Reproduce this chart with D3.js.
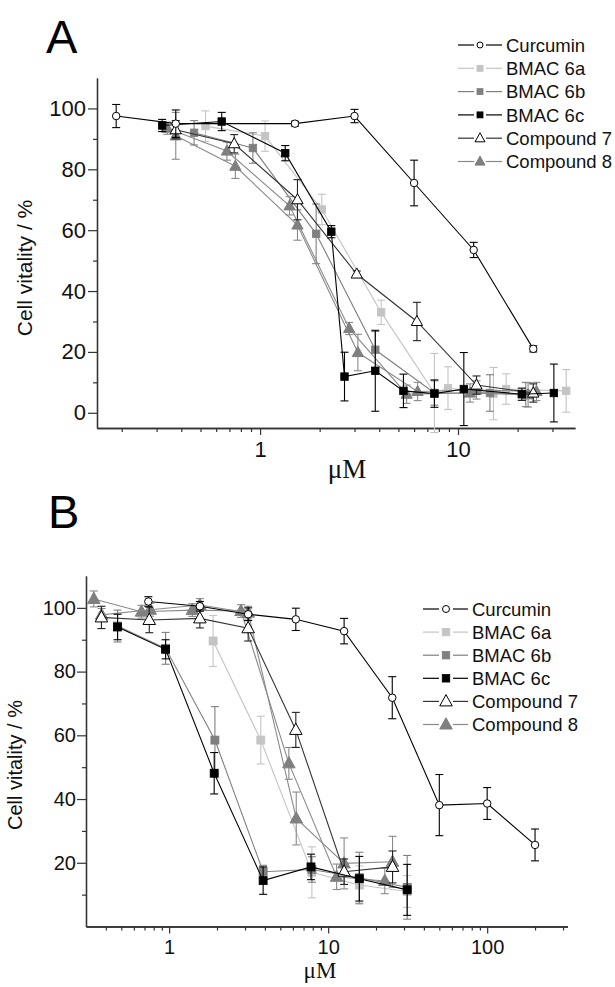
<!DOCTYPE html>
<html><head><meta charset="utf-8">
<script src="https://cdn.jsdelivr.net/npm/d3@7/dist/d3.min.js"></script>
<style>body{margin:0;background:#fff}</style>
</head><body>
<script>
// ---------- DATA: [concentration µM, vitality %, error] ----------
const A_curcumin = [[0.1875,97.5,3.8],[0.375,95,4.5],[1.5,95,0.8],[3,97.5,2.2],[6,75.5,7.5],[12,53.5,2.5],[24,21,1]];
const A_bmac6a = [[0.53,94.2,5],[1.06,90.9,5],[2.05,66.8,5],[4.09,33,4],[7.6,6.5,13],[8.9,8.1,7],[15.1,6.3,8.6],[17.5,7.8,5],[35.2,7.2,7]];
const A_bmac6b = [[0.464,92,4],[0.92,87,5],[1.92,58.8,9.8],[3.82,20.7,6],[7.6,6.5,4],[14.5,6.5,6],[22,6,4]];
const A_bmac6c = [[0.32,94.4,2],[0.64,95.7,3],[1.34,85.3,2.5],[2.29,59.5,2],[2.67,11.9,8],[3.82,13.8,13.3],[5.3,7.2,5.5],[7.6,6.3,4.5],[10.7,7.8,12],[21,6.1,2],[30.5,6.5,9.5]];
const A_cmpd7 = [[0.375,93,3],[0.74,88.4,3],[1.545,70,6.6],[3.08,45.6,1],[6.2,30,6.3],[12.4,9.1,3],[24,6.5,3]];
const A_cmpd8_r1 = [[0.34,93.5,2],[0.68,86,3],[1.41,68,3],[2.82,27.7,2],[5.5,6.1,3],[11.5,6.5,3],[22.6,5.9,4]];
const A_cmpd8_r2 = [[0.375,91,7.7],[0.75,81,4],[1.545,61.7,5],[3.12,19.8,6],[6.25,7,3],[12.4,7.5,3],[24.9,7,3]];

const B_curcumin = [[0.74,102,1.5],[1.56,100.5,1.5],[3.14,98,2],[6.26,96.4,3.5],[12.6,92.7,4],[25.3,71.8,6.6],[50,38.1,9.6],[100,38.6,5],[200,25.6,5]];
const B_bmac6a = [[1.89,89.6,8],[3.77,58.5,7.5],[7.9,17,8],[15.7,13,6],[31.4,11,5]];
const B_bmac6b = [[0.474,94.3,5],[0.95,87.3,5],[1.94,58.5,10.5],[3.9,17.2,2],[7.9,17.9,4],[15.7,15.3,8],[31.4,12.3,10]];
const B_bmac6c = [[0.474,94,4],[0.95,87,3],[1.92,48.1,6.5],[3.9,14.4,4.3],[7.8,18.7,4],[15.7,15,7],[31.4,11.5,8]];
const B_cmpd7 = [[0.375,97,3.5],[0.75,96.2,4],[1.56,96.7,3],[3.14,93.6,4],[6.26,61.7,5.5],[12.6,17.2,4],[25.4,18.7,5]];
const B_cmpd8_r1 = [[0.336,102.8,2.5],[0.67,98.8,2],[1.4,99.3,2],[2.83,99,2],[5.66,51.2,5],[11.3,15.6,4],[22.7,14.3,4]];
const B_cmpd8_r2 = [[0.376,97.8,2],[0.76,99.4,2],[1.56,100.9,2],[3.14,98.5,2],[6.3,33.9,8.3],[12.6,19.8,8],[25.4,20.3,8]];

const legendNames = ["Curcumin","BMAC 6a","BMAC 6b","BMAC 6c","Compound 7","Compound 8"];
const yTicksA = [0,20,40,60,80,100];
const yMinorA = [10,30,50,70,90];
const xMajorA = [1,10];
const xMinorA = [0.2,0.3,0.4,0.5,0.6,0.7,0.8,0.9,2,3,4,5,6,7,8,9,20,30];
const yTicksB = [20,40,60,80,100];
const yMinorB = [10,30,50,70,90];
const xMajorB = [1,10,100];
const xMinorB = [0.4,0.5,0.6,0.7,0.8,0.9,2,3,4,5,6,7,8,9,20,30,40,50,60,70,80,90,200,300];
const xTitle = "μM";
const yTitle = "Cell vitality / %";

// ---------- STYLES ----------
const styles = {
  "Curcumin":   {line:"#000", stroke:"#000", fill:"#fff", err:"#000", shape:"circle"},
  "BMAC 6a":    {line:"#c4c4c4", stroke:"#c4c4c4", fill:"#c4c4c4", err:"#c4c4c4", shape:"square"},
  "BMAC 6b":    {line:"#7f7f7f", stroke:"#7f7f7f", fill:"#7f7f7f", err:"#7f7f7f", shape:"square"},
  "BMAC 6c":    {line:"#000", stroke:"#000", fill:"#000", err:"#000", shape:"square"},
  "Compound 7": {line:"#333", stroke:"#000", fill:"#fff", err:"#222", shape:"triangle"},
  "Compound 8": {line:"#8a8a8a", stroke:"#7f7f7f", fill:"#7f7f7f", err:"#8a8a8a", shape:"triangle"}
};

const W = 615, H = 987;
const svg = d3.select("body").append("svg").attr("width",W).attr("height",H)
  .style("font-family","'Liberation Sans', Arial, sans-serif");

function marker(g, shape, cx, cy, st, size){
  if(shape==="circle"){
    g.append("circle").attr("cx",cx).attr("cy",cy).attr("r",size*0.5)
      .attr("fill",st.fill).attr("stroke",st.stroke).attr("stroke-width",1);
  } else if(shape==="square"){
    g.append("rect").attr("x",cx-size/2).attr("y",cy-size/2).attr("width",size).attr("height",size)
      .attr("fill",st.fill).attr("stroke",st.stroke).attr("stroke-width",0.8);
  } else {
    const s = size*1.25;
    const h = s*0.9;
    g.append("path").attr("d",`M${cx},${cy-h*0.6}L${cx+s/2},${cy+h*0.4}L${cx-s/2},${cy+h*0.4}Z`)
      .attr("fill",st.fill).attr("stroke",st.stroke).attr("stroke-width",1).attr("stroke-linejoin","miter");
  }
}

function panel(cfg){
  const g = svg.append("g");
  const x = d3.scaleLog().domain(cfg.xDomain).range(cfg.xRange);
  const y = d3.scaleLinear().domain(cfg.yDomain).range(cfg.yRange);
  const fs = cfg.tickFont;

  // axes
  g.append("g").attr("transform",`translate(0,${cfg.yRange[0]})`)
    .call(d3.axisBottom(x).tickValues(cfg.xMajor).tickSize(7).tickSizeOuter(0).tickPadding(cfg.xPad).tickFormat(d=>String(d)));
  g.append("g").attr("transform",`translate(0,${cfg.yRange[0]})`)
    .call(d3.axisBottom(x).tickValues(cfg.xMinor).tickSize(4).tickSizeOuter(0).tickFormat(""));
  g.append("g").attr("transform",`translate(${cfg.xRange[0]},0)`)
    .call(d3.axisLeft(y).tickValues(cfg.yTicks).tickSize(9).tickSizeOuter(0).tickPadding(cfg.yPad).tickFormat(d3.format("d")));
  g.append("g").attr("transform",`translate(${cfg.xRange[0]},0)`)
    .call(d3.axisLeft(y).tickValues(cfg.yMinor).tickSize(4).tickSizeOuter(0).tickFormat(""));
  g.selectAll(".domain").attr("stroke","#333").attr("stroke-width",1.3);
  g.selectAll(".tick line").attr("stroke","#333").attr("stroke-width",1.2);
  g.selectAll(".tick text").attr("font-size",fs).attr("fill","#111")
    .attr("font-family","'Liberation Sans', Arial, sans-serif");

  // series
  const order = ["BMAC 6a","BMAC 6b","Compound 8","Compound 7","BMAC 6c","Curcumin"];
  const lineGen = d3.line().x(d=>x(d[0])).y(d=>y(d[1]));
  order.forEach(name=>{
    const st = styles[name];
    cfg.series.filter(s=>s.name===name).forEach(s=>{
      const sg = g.append("g");
      sg.append("path").attr("d",lineGen(s.data)).attr("fill","none")
        .attr("stroke",st.line).attr("stroke-width",1.1);
      s.data.forEach(d=>{
        const cx = x(d[0]), y1 = y(d[1]+d[2]), y2 = y(d[1]-d[2]);
        sg.append("line").attr("x1",cx).attr("x2",cx).attr("y1",y1).attr("y2",y2)
          .attr("stroke",st.err).attr("stroke-width",1.1);
        [y1,y2].forEach(yy=>sg.append("line").attr("x1",cx-4).attr("x2",cx+4).attr("y1",yy).attr("y2",yy)
          .attr("stroke",st.err).attr("stroke-width",1.1));
      });
      s.data.forEach(d=>marker(sg, st.shape, x(d[0]), y(d[1]), st, cfg.mSize[st.shape]));
    });
  });

  // legend
  const L = cfg.legend;
  legendNames.forEach((name,i)=>{
    const st = styles[name];
    const yy = L.y0 + i*L.dy;
    g.append("line").attr("x1",L.x1).attr("x2",L.xm-L.gap).attr("y1",yy).attr("y2",yy).attr("stroke",st.line).attr("stroke-width",1.2);
    g.append("line").attr("x1",L.xm+L.gap).attr("x2",L.x2).attr("y1",yy).attr("y2",yy).attr("stroke",st.line).attr("stroke-width",1.2);
    marker(g, st.shape, L.xm, yy, st, L.mSize[st.shape]);
    g.append("text").attr("x",L.tx).attr("y",yy).attr("dy","0.36em").attr("font-size",L.fs)
      .attr("fill","#111").text(name);
  });

  // titles
  g.append("text").attr("x",cfg.letter.x).attr("y",cfg.letter.y).attr("font-size",cfg.letter.fs)
    .attr("fill","#000").text(cfg.letter.t);
  g.append("text").attr("x",cfg.xt.x).attr("y",cfg.xt.y).attr("text-anchor","middle")
    .attr("font-size",cfg.xt.fs).attr("font-family","'Liberation Serif', 'Times New Roman', serif")
    .attr("fill","#111").text(xTitle);
  g.append("text").attr("transform",`translate(${cfg.yt.x},${cfg.yt.y}) rotate(-90)`)
    .attr("text-anchor","middle").attr("font-size",cfg.yt.fs).attr("fill","#111").text(yTitle);
}

panel({
  xDomain:[0.15,39], xRange:[97,575], yDomain:[-5,110], yRange:[428,78],
  yTicks:yTicksA, yMinor:yMinorA, xMajor:xMajorA, xMinor:xMinorA,
  tickFont:22, xPad:6, yPad:2,
  mSize:{circle:7.5, square:7.5, triangle:9},
  series:[
    {name:"Curcumin", data:A_curcumin},
    {name:"BMAC 6a", data:A_bmac6a},
    {name:"BMAC 6b", data:A_bmac6b},
    {name:"BMAC 6c", data:A_bmac6c},
    {name:"Compound 7", data:A_cmpd7},
    {name:"Compound 8", data:A_cmpd8_r1},
    {name:"Compound 8", data:A_cmpd8_r2}
  ],
  legend:{x1:458, xm:480, x2:502, gap:6, y0:45, dy:23.3, tx:506, fs:18.5,
          mSize:{circle:6, square:6, triangle:8}},
  letter:{t:"A", x:46, y:53, fs:47},
  xt:{x:347, y:478, fs:27},
  yt:{x:32, y:268, fs:21}
});

panel({
  xDomain:[0.3,320], xRange:[86,567.5], yDomain:[0,110], yRange:[926.5,576],
  yTicks:yTicksB, yMinor:yMinorB, xMajor:xMajorB, xMinor:xMinorB,
  tickFont:20, xPad:6, yPad:1,
  mSize:{circle:7.5, square:8, triangle:10},
  series:[
    {name:"Curcumin", data:B_curcumin},
    {name:"BMAC 6a", data:B_bmac6a},
    {name:"BMAC 6b", data:B_bmac6b},
    {name:"BMAC 6c", data:B_bmac6c},
    {name:"Compound 7", data:B_cmpd7},
    {name:"Compound 8", data:B_cmpd8_r1},
    {name:"Compound 8", data:B_cmpd8_r2}
  ],
  legend:{x1:423, xm:446, x2:468, gap:7, y0:609, dy:23.1, tx:472, fs:18.5,
          mSize:{circle:7, square:7.5, triangle:10}},
  letter:{t:"B", x:48, y:528, fs:47},
  xt:{x:320, y:978, fs:23},
  yt:{x:22, y:765, fs:20}
});
</script>
</body></html>
